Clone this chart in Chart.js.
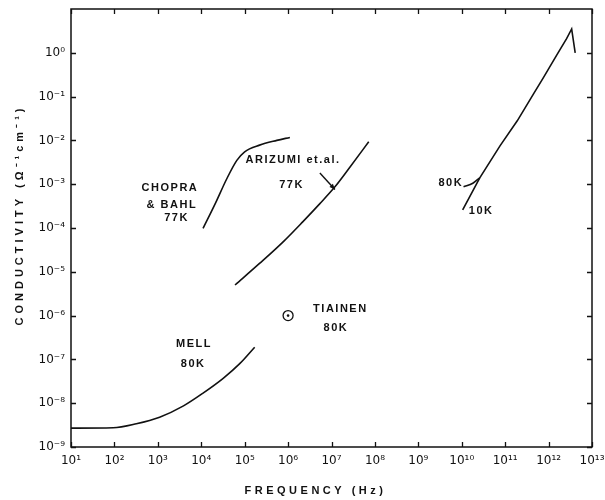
<!DOCTYPE html>
<html><head><meta charset="utf-8">
<script src="https://cdn.jsdelivr.net/npm/chart.js@4"></script>
<style>html,body{margin:0;padding:0;background:#fff}#wrap{width:605px;height:500px}</style>
</head><body><div id="wrap"><canvas id="c" width="605" height="500"></canvas></div>
<script>
// ---- tick values and labels ----
const xTickValues = [1e1,1e2,1e3,1e4,1e5,1e6,1e7,1e8,1e9,1e10,1e11,1e12,1e13];
const xTickLabels = ['10¹','10²','10³','10⁴','10⁵','10⁶','10⁷','10⁸','10⁹','10¹⁰','10¹¹','10¹²','10¹³'];
const yTickValues = [1e-9,1e-8,1e-7,1e-6,1e-5,1e-4,1e-3,1e-2,1e-1,1e0];
const yTickLabels = ['10⁻⁹','10⁻⁸','10⁻⁷','10⁻⁶','10⁻⁵','10⁻⁴','10⁻³','10⁻²','10⁻¹','10⁰'];

// ---- series (frequency Hz, conductivity ohm^-1 cm^-1) ----
const mellFreq = [1e1, 9.3e1, 3.2e2, 1.1e3, 3.9e3, 1.1e4, 3.2e4, 7.8e4, 1.7e5];
const mellCond = [2.7e-9, 2.75e-9, 3.4e-9, 4.8e-9, 8.7e-9, 1.7e-8, 3.7e-8, 8.1e-8, 1.9e-7];

const arizumiFreq = [6.0e4, 2.2e5, 7.8e5, 2.2e6, 5.4e6, 1.2e7, 2.7e7, 7.2e7];
const arizumiCond = [5.0e-6, 1.55e-5, 4.9e-5, 1.4e-4, 3.6e-4, 8.7e-4, 2.5e-3, 9.3e-3];

const chopraFreq = [1.1e4, 2.1e4, 3.9e4, 6.6e4, 1.0e5, 2.2e5, 5.5e5, 1.1e6];
const chopraCond = [9.8e-5, 3.6e-4, 1.35e-3, 3.5e-3, 5.5e-3, 7.8e-3, 1.0e-2, 1.17e-2];

const k10Freq = [1.05e10, 2.6e10, 7.6e10, 1.9e11, 4.5e11, 7.6e11, 1.55e12, 2.6e12, 3.4e12, 4.1e12];
const k10Cond = [2.6e-4, 1.4e-3, 7.5e-3, 2.8e-2, 1.15e-1, 2.7e-1, 0.9, 2.1, 3.5, 1.0];

const k80Freq = [1.1e10, 1.8e10, 2.6e10];
const k80Cond = [8.7e-4, 1.05e-3, 1.4e-3];

const tiainenFreq = [1e6];
const tiainenCond = [1e-6];

// ---- annotations ----
const noteTexts = ['CHOPRA','& BAHL','77K','ARIZUMI et.al.','77K','MELL','80K','TIAINEN','80K','80K','10K'];
const noteFreq  = [1.9e3, 2.1e3, 2.7e3, 1.3e6, 1.2e6, 6.8e3, 6.5e3, 1.6e7, 1.26e7, 5.6e9, 2.8e10];
const noteCond  = [8.1e-4, 3.4e-4, 1.7e-4, 3.5e-3, 9.5e-4, 2.3e-7, 7.8e-8, 1.4e-6, 5.2e-7, 1.07e-3, 2.45e-4];
const arrowFreq = [5.4e6, 1.2e7];
const arrowCond = [1.8e-3, 7.6e-4];

const xTitle = 'FREQUENCY (Hz)';
const yTitle = 'CONDUCTIVITY (Ω⁻¹cm⁻¹)';

const pts = (xs, ys) => xs.map((x, i) => ({x, y: ys[i]}));
const INK = '#111';
const lineDs = (label, xs, ys, tension) => ({
  label, data: pts(xs, ys), showLine: true, pointRadius: 0, borderColor: INK,
  borderWidth: 1.6, fill: false, tension,
  cubicInterpolationMode: tension ? 'monotone' : 'default'
});

const framePlugin = {
  id: 'frame',
  afterDraw(chart) {
    const {ctx, chartArea: a, scales: {x, y}} = chart;
    ctx.save();
    ctx.strokeStyle = INK; ctx.lineWidth = 1.5;
    ctx.strokeRect(a.left, a.top, a.right - a.left, a.bottom - a.top);
    ctx.lineWidth = 1.3;
    const L = 5;
    ctx.beginPath();
    xTickValues.forEach(v => {
      const px = Math.round(x.getPixelForValue(v)) + 0.5;
      ctx.moveTo(px, a.bottom); ctx.lineTo(px, a.bottom - L);
      ctx.moveTo(px, a.top); ctx.lineTo(px, a.top + L);
    });
    yTickValues.forEach(v => {
      const py = Math.round(y.getPixelForValue(v)) + 0.5;
      ctx.moveTo(a.left, py); ctx.lineTo(a.left + L, py);
      ctx.moveTo(a.right, py); ctx.lineTo(a.right - L, py);
    });
    ctx.stroke();

    // annotations
    ctx.fillStyle = INK;
    ctx.font = 'bold 11px "Liberation Sans", Arial, sans-serif';
    ctx.letterSpacing = '1.5px';
    ctx.textAlign = 'center'; ctx.textBaseline = 'middle';
    noteTexts.forEach((t, i) => {
      ctx.fillText(t, x.getPixelForValue(noteFreq[i]), y.getPixelForValue(noteCond[i]));
    });

    // arrow
    const x0 = x.getPixelForValue(arrowFreq[0]), y0 = y.getPixelForValue(arrowCond[0]);
    const x1 = x.getPixelForValue(arrowFreq[1]), y1 = y.getPixelForValue(arrowCond[1]);
    ctx.lineWidth = 1.4;
    ctx.beginPath(); ctx.moveTo(x0, y0); ctx.lineTo(x1, y1); ctx.stroke();
    const ang = Math.atan2(y1 - y0, x1 - x0), h = 6;
    ctx.beginPath();
    ctx.moveTo(x1, y1);
    ctx.lineTo(x1 - h * Math.cos(ang - 0.4), y1 - h * Math.sin(ang - 0.4));
    ctx.lineTo(x1 - h * Math.cos(ang + 0.4), y1 - h * Math.sin(ang + 0.4));
    ctx.closePath(); ctx.fill();

    // axis titles
    ctx.font = 'bold 11px "Liberation Sans", Arial, sans-serif';
    ctx.letterSpacing = '3.5px';
    ctx.fillText(xTitle, (a.left + a.right) / 2 - 16, a.bottom + 44);
    ctx.save();
    ctx.translate(20, (a.top + a.bottom) / 2 - 13);
    ctx.rotate(-Math.PI / 2);
    ctx.letterSpacing = '4px';
    ctx.fillText(yTitle, 0, 0);
    ctx.restore();
    ctx.restore();
  }
};

new Chart(document.getElementById('c'), {
  type: 'scatter',
  data: {
    datasets: [
      { label: 'Tiainen 80K centre', data: pts(tiainenFreq, tiainenCond), pointRadius: 1.3,
        pointBackgroundColor: INK, pointBorderColor: INK, pointBorderWidth: 0, showLine: false },
      { label: 'Tiainen 80K', data: pts(tiainenFreq, tiainenCond), pointRadius: 5,
        pointBackgroundColor: '#fff', pointBorderColor: INK, pointBorderWidth: 1.3, showLine: false },
      lineDs('Mell 80K', mellFreq, mellCond, 0.4),
      lineDs('Arizumi et al. 77K', arizumiFreq, arizumiCond, 0.4),
      lineDs('Chopra & Bahl 77K', chopraFreq, chopraCond, 0.4),
      lineDs('10K', k10Freq, k10Cond, 0),
      lineDs('80K', k80Freq, k80Cond, 0.4)
    ]
  },
  options: {
    responsive: false, animation: false, devicePixelRatio: 1,
    layout: { padding: { top: 9, right: 13, left: 0, bottom: 0 } },
    plugins: { legend: { display: false }, tooltip: { enabled: false } },
    scales: {
      x: {
        type: 'logarithmic', min: 1e1, max: 1e13,
        afterBuildTicks: s => { s.ticks = xTickValues.map(v => ({ value: v })); },
        afterFit: s => { s.height = 53; s.paddingLeft = 0; s.paddingRight = 0; },
        grid: { display: false, drawTicks: false }, border: { display: false },
        ticks: { autoSkip: false, maxRotation: 0, padding: 7, color: INK,
          font: { family: 'DejaVu Sans', size: 12 },
          callback: v => xTickLabels[xTickValues.indexOf(v)] }
      },
      y: {
        type: 'logarithmic', min: 1e-9, max: 1e1,
        afterBuildTicks: s => { s.ticks = yTickValues.map(v => ({ value: v })); },
        afterFit: s => { s.width = 71; s.paddingTop = 0; s.paddingBottom = 0; },
        grid: { display: false, drawTicks: false }, border: { display: false },
        ticks: { autoSkip: false, padding: 6, color: INK,
          font: { family: 'DejaVu Sans', size: 12 },
          callback: v => yTickLabels[yTickValues.indexOf(v)] }
      }
    }
  },
  plugins: [framePlugin]
});
</script></body></html>
